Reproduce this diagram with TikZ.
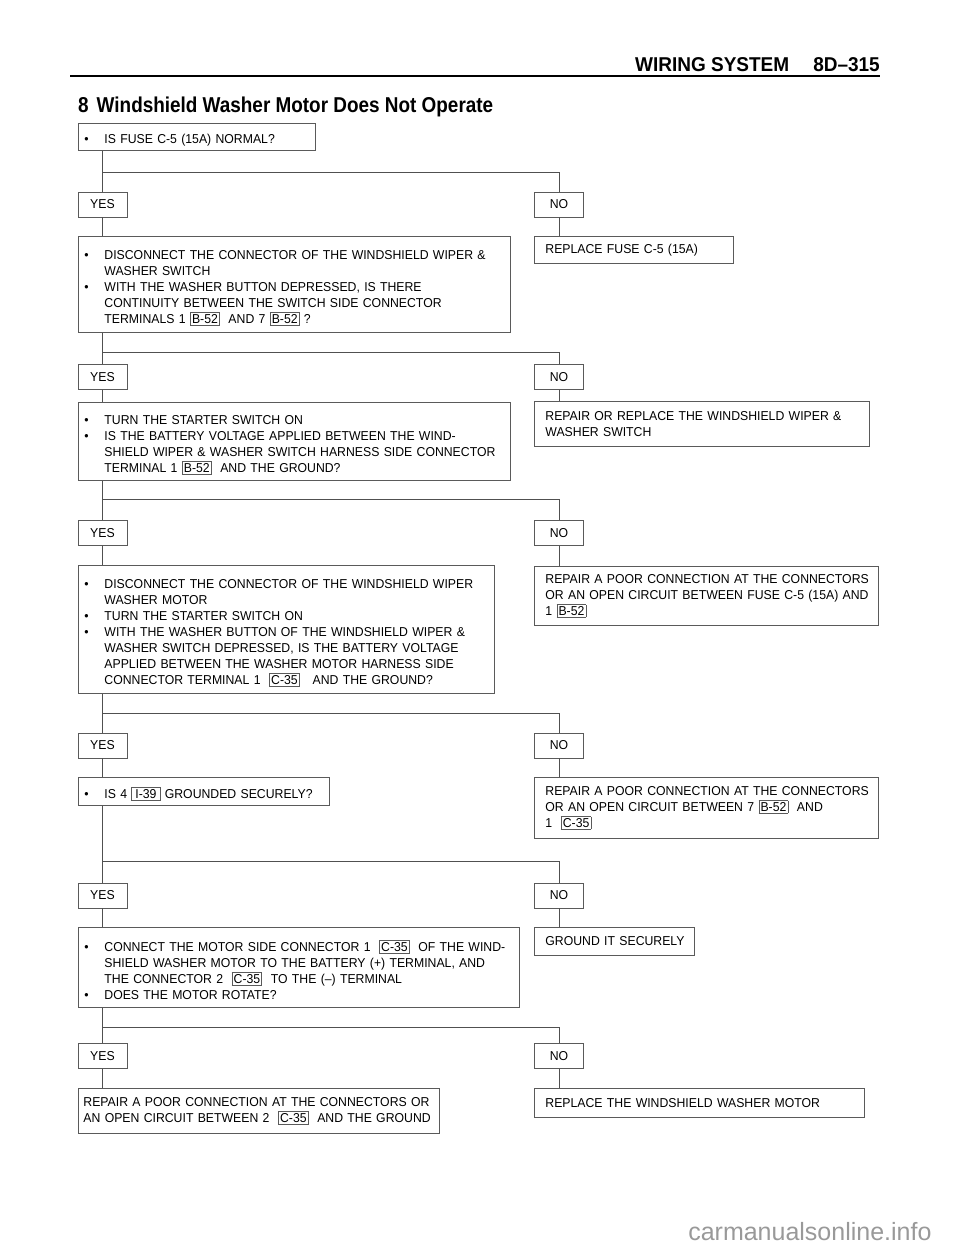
\documentclass[tikz,border=0pt]{standalone}
\usepackage{fontspec}
\setmainfont{Liberation Sans}
\newfontfamily\condfont[Ligatures=TeX, FakeStretch=0.88]{Liberation Sans}
\newfontfamily\headfont[Ligatures=TeX, FakeStretch=0.95]{Liberation Sans}
\newfontfamily\bodyfam[Ligatures=TeX, FakeStretch=0.95]{Liberation Sans}
\definecolor{linegray}{RGB}{80,80,80}
\definecolor{boxgray}{RGB}{90,90,90}
\newcommand{\bodyfont}{\bodyfam\fontsize{12.9}{16}\selectfont}
\newcommand{\conn}[1]{{\setlength{\fboxsep}{1.2pt}\setlength{\fboxrule}{0.8pt}\fcolorbox{boxgray}{white}{#1}}}
\newcommand{\bul}[1]{\par\leftskip=20pt\noindent\llap{\makebox[20pt][l]{\textbullet}}#1\par}
\begin{document}
\begin{tikzpicture}[x=1pt, y=-1pt,
    qbox/.style={draw=boxgray, line width=0.9pt, anchor=north west, inner xsep=6pt, inner ysep=3pt, align=left, font=\bodyfont},
    rbox/.style={qbox, inner xsep=3pt, execute at begin node={\leftskip=8pt\relax}},
    answer/.style={draw=boxgray, line width=0.9pt, minimum width=49pt, minimum height=25pt, inner sep=0pt, font=\bodyfont},
    link/.style={draw=linegray, line width=0.9pt}]
    \useasboundingbox (0,0) rectangle (960,1250);

    \node[anchor=base east, inner sep=0pt, font=\headfont\bfseries\fontsize{20}{22}\selectfont] (head) at (880,71) {WIRING SYSTEM\hspace{24pt}8D–315};
    \draw[line width=2.4pt] (70,76) -- (880,76);
    \node[anchor=base west, inner sep=0pt, font=\condfont\bfseries\fontsize{21.5}{24}\selectfont] (title) at (78,112) {8\hspace{8pt}Windshield Washer Motor Does Not Operate};

    \node[qbox, text width=225pt, minimum height=27pt] (q1) at (78,123) {\bul{IS FUSE C-5 (15A) NORMAL?}};
    \node[answer] (yes1) at (102.5,204.5) {YES};
    \node[answer] (no1) at (559,204.5) {NO};
    \coordinate (b1) at (102.5,172);
    \node[qbox, text width=420pt, minimum height=96pt] (q2) at (78,236) {\bul{DISCONNECT THE CONNECTOR OF THE WINDSHIELD WIPER \&\break WASHER SWITCH}
        \bul{WITH THE WASHER BUTTON DEPRESSED, IS THERE\break CONTINUITY BETWEEN THE SWITCH SIDE CONNECTOR\break TERMINALS 1 \conn{B-52}\ \ AND 7 \conn{B-52} ?}};
    \node[rbox, text width=193pt, minimum height=27pt] (r1) at (534,236) {REPLACE FUSE C-5 (15A)};

    \node[answer] (yes2) at (102.5,377) {YES};
    \node[answer] (no2) at (559,377) {NO};
    \coordinate (b2) at (102.5,352);
    \node[qbox, text width=420pt, minimum height=78pt] (q3) at (78,402) {\bul{TURN THE STARTER SWITCH ON}
        \bul{IS THE BATTERY VOLTAGE APPLIED BETWEEN THE WIND-\break SHIELD WIPER \& WASHER SWITCH HARNESS SIDE CONNECTOR\break TERMINAL 1 \conn{B-52}\ \ AND THE GROUND?}};
    \node[rbox, text width=329pt, minimum height=45pt] (r2) at (534,401) {REPAIR OR REPLACE THE WINDSHIELD WIPER \&\break WASHER SWITCH};

    \node[answer] (yes3) at (102.5,533) {YES};
    \node[answer] (no3) at (559,533) {NO};
    \coordinate (b3) at (102.5,499);
    \node[qbox, text width=404pt, minimum height=128pt] (q4) at (78,565) {\bul{DISCONNECT THE CONNECTOR OF THE WINDSHIELD WIPER\break WASHER MOTOR}
        \bul{TURN THE STARTER SWITCH ON}
        \bul{WITH THE WASHER BUTTON OF THE WINDSHIELD WIPER \&\break WASHER SWITCH DEPRESSED, IS THE BATTERY VOLTAGE\break APPLIED BETWEEN THE WASHER MOTOR HARNESS SIDE\break CONNECTOR TERMINAL 1\ \ \conn{C-35}\ \ \ AND THE GROUND?}};
    \node[rbox, text width=338pt, minimum height=59pt] (r3) at (534,566) {REPAIR A POOR CONNECTION AT THE CONNECTORS\break OR AN OPEN CIRCUIT BETWEEN FUSE C-5 (15A) AND\break 1 \conn{B-52}};

    \node[answer] (yes4) at (102.5,745.5) {YES};
    \node[answer] (no4) at (559,745.5) {NO};
    \coordinate (b4) at (102.5,713);
    \node[qbox, text width=239pt, minimum height=28pt] (q5) at (78,777) {\bul{IS 4 \conn{\kern2pt I-39\kern2pt} GROUNDED SECURELY?}};
    \node[rbox, text width=338pt, minimum height=61pt] (r4) at (534,777) {REPAIR A POOR CONNECTION AT THE CONNECTORS\break OR AN OPEN CIRCUIT BETWEEN 7 \conn{B-52}\ \ AND\break 1\ \ \conn{C-35}};

    \node[answer] (yes5) at (102.5,895.5) {YES};
    \node[answer] (no5) at (559,895.5) {NO};
    \coordinate (b5) at (102.5,861);
    \node[qbox, text width=429pt, minimum height=80pt] (q6) at (78,927) {\bul{CONNECT THE MOTOR SIDE CONNECTOR 1\ \ \conn{C-35}\ \ OF THE WIND-\break SHIELD WASHER MOTOR TO THE BATTERY (+) TERMINAL, AND\break THE CONNECTOR 2\ \ \conn{C-35}\ \ TO THE (--) TERMINAL}
        \bul{DOES THE MOTOR ROTATE?}};
    \node[rbox, text width=154pt, minimum height=28pt] (r5) at (534,927) {GROUND IT SECURELY};

    \node[answer] (yes6) at (102.5,1056) {YES};
    \node[answer] (no6) at (559,1056) {NO};
    \coordinate (b6) at (102.5,1027);
    \node[qbox, inner xsep=5pt, text width=351pt, minimum height=45pt] (q7) at (78,1088) {REPAIR A POOR CONNECTION AT THE CONNECTORS OR\break AN OPEN CIRCUIT BETWEEN 2\ \ \conn{C-35}\ \ AND THE GROUND};
    \node[rbox, text width=324pt, minimum height=29pt] (r6) at (534,1088) {REPLACE THE WINDSHIELD WASHER MOTOR};

    \path[link] (q1.south -| yes1) -- (yes1.north) (b1) -| (no1.north);
    \path[link] (yes1.south) -- (q2.north -| yes1) (no1.south) -- (r1.north -| no1);
    \path[link] (q2.south -| yes2) -- (yes2.north) (b2) -| (no2.north);
    \path[link] (yes2.south) -- (q3.north -| yes2) (no2.south) -- (r2.north -| no2);
    \path[link] (q3.south -| yes3) -- (yes3.north) (b3) -| (no3.north);
    \path[link] (yes3.south) -- (q4.north -| yes3) (no3.south) -- (r3.north -| no3);
    \path[link] (q4.south -| yes4) -- (yes4.north) (b4) -| (no4.north);
    \path[link] (yes4.south) -- (q5.north -| yes4) (no4.south) -- (r4.north -| no4);
    \path[link] (q5.south -| yes5) -- (yes5.north) (b5) -| (no5.north);
    \path[link] (yes5.south) -- (q6.north -| yes5) (no5.south) -- (r5.north -| no5);
    \path[link] (q6.south -| yes6) -- (yes6.north) (b6) -| (no6.north);
    \path[link] (yes6.south) -- (q7.north -| yes6) (no6.south) -- (r6.north -| no6);

    \node[anchor=base east, text=black!40, font=\fontsize{25}{27}\selectfont] (mark) at (935,1240) {carmanualsonline.info};
\end{tikzpicture}
\end{document}
